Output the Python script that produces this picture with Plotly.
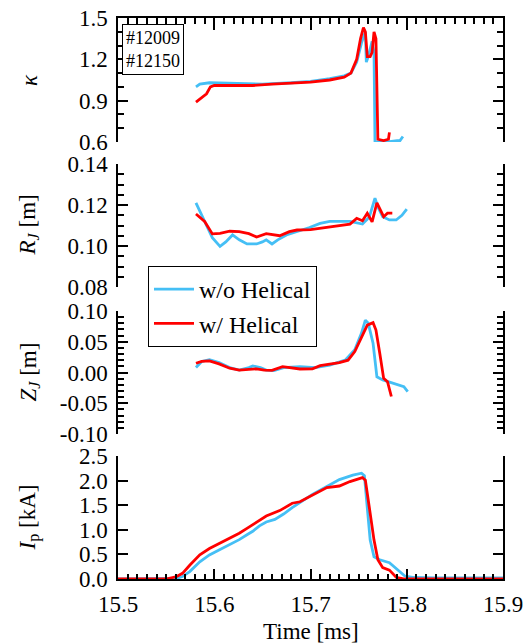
import plotly.graph_objects as go

# ---------------- data ----------------
kappa_wo_t = [15.581, 15.585, 15.595, 15.62, 15.65, 15.68, 15.70, 15.72, 15.735, 15.742, 15.748, 15.753,
              15.757, 15.758, 15.760, 15.764, 15.766, 15.767, 15.770, 15.780, 15.790, 15.793, 15.796]
kappa_wo = [1.00, 1.02, 1.03, 1.025, 1.02, 1.03, 1.04, 1.06, 1.08, 1.10, 1.18, 1.32,
            1.40, 1.18, 1.22, 1.33, 1.25, 0.60, 0.60, 0.60, 0.61, 0.61, 0.64]
kappa_w_t = [15.581, 15.587, 15.592, 15.596, 15.600, 15.62, 15.64, 15.66, 15.68, 15.70, 15.72, 15.735,
             15.742, 15.748, 15.752, 15.755, 15.757, 15.759, 15.762, 15.764, 15.766, 15.768, 15.770,
             15.776, 15.781, 15.782]
kappa_w = [0.89, 0.92, 0.95, 1.00, 1.01, 1.01, 1.01, 1.02, 1.025, 1.035, 1.05, 1.07,
           1.10, 1.20, 1.35, 1.43, 1.40, 1.22, 1.22, 1.25, 1.40, 1.35, 0.62,
           0.61, 0.62, 0.67]

rj_wo_t = [15.581, 15.590, 15.598, 15.606, 15.612, 15.619, 15.626, 15.634, 15.644, 15.650, 15.654, 15.660,
           15.666, 15.675, 15.686, 15.699, 15.710, 15.720, 15.741, 15.754, 15.761, 15.767, 15.770, 15.775,
           15.782, 15.789, 15.795, 15.800]
rj_wo = [0.121, 0.112, 0.104, 0.0998, 0.102, 0.1054, 0.103, 0.101, 0.101, 0.102, 0.103, 0.101,
         0.103, 0.1054, 0.107, 0.109, 0.111, 0.112, 0.112, 0.1107, 0.114, 0.1233, 0.119, 0.1143,
         0.1127, 0.1127, 0.115, 0.118]
rj_w_t = [15.581, 15.590, 15.598, 15.606, 15.616, 15.626, 15.636, 15.644, 15.654, 15.661, 15.668, 15.678,
          15.686, 15.700, 15.717, 15.730, 15.741, 15.748, 15.754, 15.759, 15.764, 15.769, 15.776, 15.780,
          15.785]
rj_w = [0.1156, 0.112, 0.1059, 0.1062, 0.1072, 0.107, 0.106, 0.1044, 0.106, 0.1054, 0.105, 0.107,
        0.1078, 0.108, 0.1091, 0.110, 0.1107, 0.1135, 0.1123, 0.116, 0.1118, 0.1211, 0.1143, 0.116,
        0.116]

zj_wo_t = [15.581, 15.587, 15.595, 15.605, 15.616, 15.626, 15.636, 15.640, 15.648, 15.654, 15.662, 15.672,
           15.689, 15.705, 15.720, 15.736, 15.746, 15.753, 15.757, 15.760, 15.765, 15.769, 15.775, 15.787,
           15.797, 15.801]
zj_wo = [0.008, 0.018, 0.021, 0.016, 0.008, 0.004, 0.008, 0.0106, 0.008, 0.004, 0.003, 0.008,
         0.0095, 0.008, 0.012, 0.020, 0.037, 0.064, 0.085, 0.080, 0.0475, -0.007, -0.012, -0.018,
         -0.023, -0.031]
zj_w_t = [15.581, 15.587, 15.595, 15.605, 15.616, 15.626, 15.636, 15.644, 15.652, 15.660, 15.671, 15.689,
          15.702, 15.710, 15.730, 15.739, 15.746, 15.753, 15.759, 15.765, 15.768, 15.772, 15.776, 15.780,
          15.782, 15.784]
zj_w = [0.015, 0.018, 0.019, 0.014, 0.007, 0.004, 0.005, 0.006, 0.004, 0.0035, 0.0095, 0.0057,
        0.006, 0.011, 0.016, 0.020, 0.034, 0.058, 0.077, 0.081, 0.069, 0.031, -0.0095, -0.015,
        -0.026, -0.039]

ip_wo_t = [15.50, 15.55, 15.56, 15.567, 15.5745, 15.585, 15.595, 15.606, 15.616, 15.626, 15.634, 15.640,
           15.647, 15.654, 15.663, 15.672, 15.681, 15.690, 15.702, 15.717, 15.730, 15.744, 15.753, 15.756,
           15.759, 15.762, 15.766, 15.772, 15.782, 15.789, 15.798, 15.808, 15.83, 15.90]
ip_wo = [0.0, 0.0, 0.01, 0.05, 0.15, 0.35, 0.49, 0.60, 0.70, 0.80, 0.90, 0.97,
         1.08, 1.16, 1.21, 1.32, 1.45, 1.56, 1.72, 1.88, 2.02, 2.11, 2.15, 2.10,
         1.47, 0.79, 0.45, 0.39, 0.33, 0.22, 0.06, 0.03, 0.02, 0.02]
ip_w_t = [15.50, 15.55, 15.561, 15.567, 15.5745, 15.585, 15.595, 15.606, 15.616, 15.626, 15.634, 15.647,
          15.654, 15.668, 15.681, 15.689, 15.702, 15.717, 15.730, 15.741, 15.754, 15.757, 15.761, 15.766,
          15.770, 15.775, 15.782, 15.785, 15.789, 15.798, 15.90]
ip_w = [0.0, 0.0, 0.05, 0.115, 0.28, 0.49, 0.62, 0.73, 0.83, 0.93, 1.03, 1.20,
        1.28, 1.39, 1.54, 1.57, 1.71, 1.86, 1.89, 1.98, 2.06, 2.01, 1.47, 0.79,
        0.39, 0.23, 0.18, 0.12, 0.035, 0.0, 0.0]

series_names = ["w/o Helical", "w/ Helical"]
shot_labels = ["#12009", "#12150"]
z_tickvals = [-0.10, -0.05, 0.00, 0.05, 0.10]
z_ticktext = ["-0.10", "-0.05", "0.00", "0.05", "0.10"]

# ---------------- styling ----------------
BLUE = "#45BFF5"
RED = "#FF0000"
FONT = "Liberation Serif"
FS = 23
W, H = 532, 644
LW = 2.8

def fx(p):   # page pixel x -> paper fraction
    return p / W

def fy(p):   # page pixel y -> paper fraction
    return 1 - p / H

X0, X1 = 118, 503
panels = [(18, 142), (164, 287), (311, 434), (456, 579)]

fig = go.Figure()

data = [
    (kappa_wo_t, kappa_wo, kappa_w_t, kappa_w),
    (rj_wo_t, rj_wo, rj_w_t, rj_w),
    (zj_wo_t, zj_wo, zj_w_t, zj_w),
    (ip_wo_t, ip_wo, ip_w_t, ip_w),
]
for i, (bt, bv, rt, rv) in enumerate(data):
    k = i + 1
    fig.add_trace(go.Scatter(x=bt, y=bv, mode="lines", line=dict(color=BLUE, width=LW),
                             name=series_names[0], showlegend=(k == 2),
                             xaxis=f"x{k}", yaxis=f"y{k}"))
    fig.add_trace(go.Scatter(x=rt, y=rv, mode="lines", line=dict(color=RED, width=LW),
                             name=series_names[1], showlegend=(k == 2),
                             xaxis=f"x{k}", yaxis=f"y{k}"))

tickfont = dict(family=FONT, size=FS, color="black")
axis_common = dict(showgrid=False, zeroline=False, showline=True, linecolor="black", linewidth=1.5,
                   ticks="inside", tickcolor="black", tickwidth=1.5, automargin=False,
                   ticklabeloverflow="allow")

xbase = dict(range=[15.5, 15.9], domain=[fx(X0), fx(X1)], **axis_common)
layout = {}
layout["xaxis"] = dict(xbase, anchor="y", side="top", dtick=0.1, tick0=15.5, ticklen=12,
                       showticklabels=False,
                       minor=dict(ticks="inside", dtick=0.01, ticklen=6, tickcolor="black", tickwidth=1.5))
layout["xaxis2"] = dict(xbase, anchor="y2", visible=False)
layout["xaxis3"] = dict(xbase, anchor="y3", visible=False)
layout["xaxis4"] = dict(xbase, anchor="y4", side="bottom", dtick=0.1, tick0=15.5, ticklen=10,
                        tickformat=".1f", tickfont=tickfont, ticklabelstandoff=4,
                        minor=dict(ticks="inside", dtick=0.01, ticklen=5, tickcolor="black", tickwidth=1.5))

ybase = dict(mirror="ticks", ticklen=10, tickfont=tickfont, ticklabelstandoff=4, **axis_common)
layout["yaxis"] = dict(ybase, domain=[fy(panels[0][1]), fy(panels[0][0])], anchor="x",
                       range=[0.6, 1.5], tick0=0.6, dtick=0.3, tickformat=".1f",
                       minor=dict(ticks="inside", dtick=0.1, ticklen=6, tickcolor="black", tickwidth=1.5))
layout["yaxis2"] = dict(ybase, domain=[fy(panels[1][1]), fy(panels[1][0])], anchor="x2",
                        range=[0.08, 0.14], tick0=0.08, dtick=0.02, tickformat=".2f",
                        minor=dict(ticks="inside", dtick=0.005, ticklen=6, tickcolor="black", tickwidth=1.5))
layout["yaxis3"] = dict(ybase, domain=[fy(panels[2][1]), fy(panels[2][0])], anchor="x3",
                        range=[-0.1, 0.1], tickmode="array", tickvals=z_tickvals, ticktext=z_ticktext,
                        minor=dict(ticks="inside", dtick=0.01, ticklen=6, tickcolor="black", tickwidth=1.5))
layout["yaxis4"] = dict(ybase, domain=[fy(panels[3][1]), fy(panels[3][0])], anchor="x4",
                        range=[0, 2.5], tick0=0, dtick=0.5, tickformat=".1f")

titles = ["<i>κ</i>", "<i>R</i><sub><i>J</i></sub> [m]", "<i>Z</i><sub><i>J</i></sub> [m]",
          "<i>I</i><sub>p</sub> [kA]"]
annotations = []
for (top, bot), t in zip(panels, titles):
    annotations.append(dict(text=t, xref="paper", yref="paper", x=fx(29), y=fy((top + bot) / 2),
                            xanchor="center", yanchor="middle", textangle=-90, showarrow=False,
                            font=dict(family=FONT, size=FS, color="black")))
annotations.append(dict(text="Time [ms]", xref="paper", yref="paper", x=fx((X0 + X1) / 2), y=fy(631),
                        xanchor="center", yanchor="middle", showarrow=False,
                        font=dict(family=FONT, size=FS, color="black")))
annotations.append(dict(text="<br>".join(shot_labels), xref="paper", yref="paper", x=fx(122), y=fy(24),
                        xanchor="left", yanchor="top", align="left", showarrow=False,
                        bordercolor="black", borderwidth=1, borderpad=3, bgcolor="white",
                        font=dict(family=FONT, size=18, color="black")))

fig.update_layout(
    width=W, height=H, autosize=False,
    margin=dict(l=0, r=0, t=0, b=0, pad=0, autoexpand=False),
    paper_bgcolor="white", plot_bgcolor="rgba(0,0,0,0)",
    showlegend=True,
    legend=dict(x=fx(148), y=fy(266), xanchor="left", yanchor="top",
                bordercolor="black", borderwidth=1, bgcolor="white",
                font=dict(family=FONT, size=24, color="black"), itemwidth=40,
                tracegroupgap=0),
    annotations=annotations,
    **layout,
)

fig.write_html("out.html", config={"displayModeBar": False},
               post_script="document.body.style.margin='0';")
